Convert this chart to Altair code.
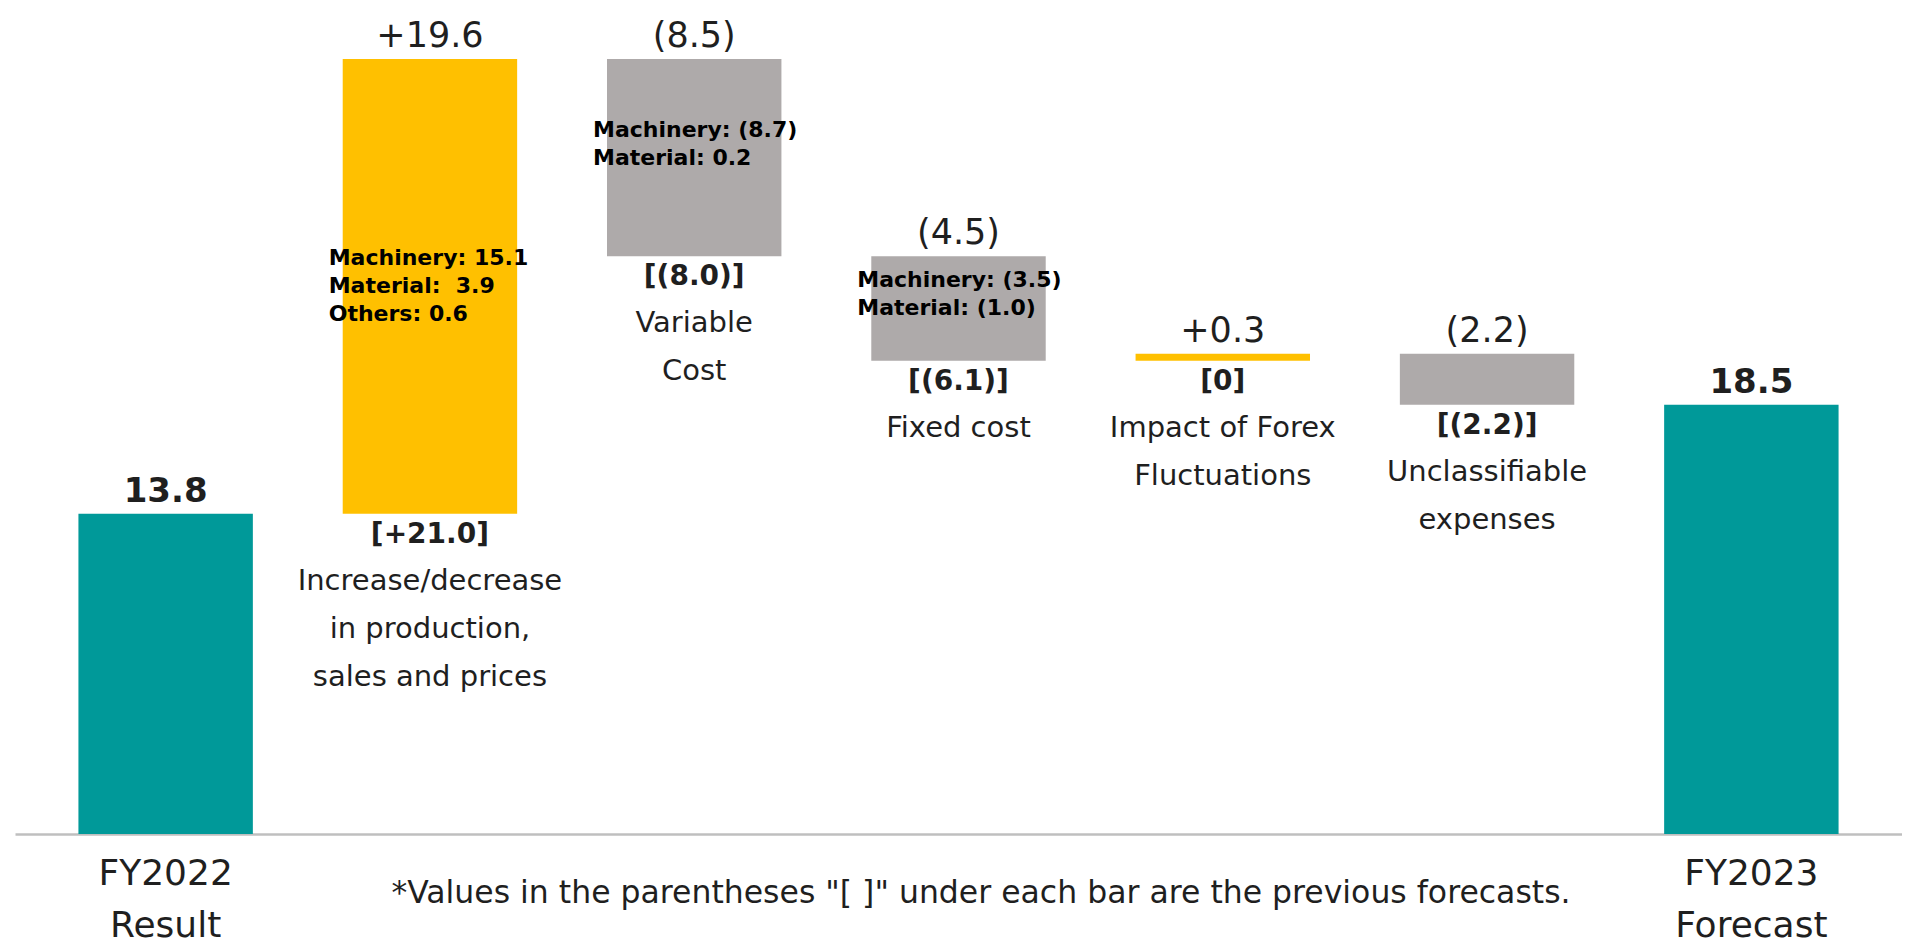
import altair as alt

# ---- data ----
steps = ["FY2022", "Production", "Variable", "Fixed", "Forex", "Unclassifiable", "FY2023"]
changes = [13.8, 19.6, -8.5, -4.5, 0.3, -2.2, 18.5]
kinds = ["total", "increase", "decrease", "decrease", "increase", "decrease", "total"]
value_labels = ["13.8", "+19.6", "(8.5)", "(4.5)", "+0.3", "(2.2)", "18.5"]
previous_forecasts = ["", "[+21.0]", "[(8.0)]", "[(6.1)]", "[0]", "[(2.2)]", ""]
category_labels = [
    "FY2022\nResult",
    "Increase/decrease\nin production,\nsales and prices",
    "Variable\nCost",
    "Fixed cost",
    "Impact of Forex\nFluctuations",
    "Unclassifiable\nexpenses",
    "FY2023\nForecast",
]
breakdowns = [
    "",
    "Machinery: 15.1\nMaterial:\u00a0 3.9\nOthers: 0.6",
    "Machinery: (8.7)\nMaterial: 0.2",
    "Machinery: (3.5)\nMaterial: (1.0)",
    "",
    "",
    "",
]
footnote = '*Values in the parentheses "[ ]" under each bar are the previous forecasts.'

# ---- waterfall table ----
rows = []
running = 0.0
for i, s in enumerate(steps):
    if kinds[i] == "total":
        start, end = 0.0, changes[i]
        running = changes[i]
    else:
        start = running
        end = round(running + changes[i], 4)
        running = end
    rows.append({
        "step": s,
        "kind": kinds[i],
        "start": start,
        "end": end,
        "top": max(start, end),
        "bottom": min(start, end),
        "mid": (start + end) / 2,
        "value_label": value_labels[i],
        "prev": previous_forecasts[i],
        "category": category_labels[i],
        "breakdown": breakdowns[i],
    })

data = alt.Data(values=rows)
FONT = "DejaVu Sans"
TXT = "#1f1f1f"

x_enc = alt.X(
    "step:N",
    sort=steps,
    scale=alt.Scale(paddingInner=0.34, paddingOuter=0.24),
    axis=alt.Axis(labels=False, ticks=False, title=None, domainColor="#bfbfbf", domainWidth=2.5, grid=False),
)
y_scale = alt.Scale(domain=[0, 35.6], nice=False)

base = alt.Chart(data)

bars = base.mark_bar().encode(
    x=x_enc,
    y=alt.Y("start:Q", scale=y_scale, axis=None),
    y2="end:Q",
    color=alt.Color(
        "kind:N",
        scale=alt.Scale(domain=["total", "increase", "decrease"], range=["#009999", "#FFC000", "#AEAAAA"]),
        legend=None,
    ),
)

top_regular = base.transform_filter("datum.kind != 'total'").mark_text(
    font=FONT, fontSize=35, color=TXT, baseline="alphabetic", dy=-12
).encode(x=alt.X("step:N", sort=steps), y=alt.Y("top:Q", scale=y_scale), text="value_label:N")

top_bold = base.transform_filter("datum.kind == 'total'").mark_text(
    font=FONT, fontSize=34, fontWeight="bold", color=TXT, baseline="alphabetic", dy=-12
).encode(x=alt.X("step:N", sort=steps), y=alt.Y("top:Q", scale=y_scale), text="value_label:N")

prev_labels = base.transform_filter("datum.prev != ''").mark_text(
    font=FONT, fontSize=28, fontWeight="bold", color=TXT, baseline="middle", dy=21
).encode(x=alt.X("step:N", sort=steps), y=alt.Y("bottom:Q", scale=y_scale), text="prev:N")

cat_labels = base.transform_filter("datum.kind != 'total'").mark_text(
    font=FONT, fontSize=29, color=TXT, baseline="alphabetic", dy=76, lineBreak="\n", lineHeight=48
).encode(x=alt.X("step:N", sort=steps), y=alt.Y("bottom:Q", scale=y_scale), text="category:N")

total_labels = base.transform_filter("datum.kind == 'total'").mark_text(
    font=FONT, fontSize=36, color=TXT, baseline="alphabetic", dy=51, lineBreak="\n", lineHeight=52
).encode(x=alt.X("step:N", sort=steps), y=alt.Y("start:Q", scale=y_scale), text="category:N")

breakdown_labels = base.transform_filter("datum.breakdown != ''").mark_text(
    font=FONT, fontSize=22, fontWeight="bold", color="#000000", align="left", baseline="middle",
    dx=-14, dy=-28, lineBreak="\n", lineHeight=28
).encode(
    x=alt.X("step:N", sort=steps, bandPosition=0),
    y=alt.Y("mid:Q", scale=y_scale),
    text="breakdown:N",
)

note = alt.Chart(alt.Data(values=[{"note": footnote}])).mark_text(
    font=FONT, fontSize=31.5, color=TXT, baseline="middle", align="center"
).encode(x=alt.value(966), y=alt.value(886), text="note:N")

chart = alt.layer(
    bars, top_regular, top_bold, prev_labels, cat_labels, total_labels, breakdown_labels, note
).properties(
    width=1887,
    height=826,
    padding={"left": 7, "top": 0, "right": 0, "bottom": 107},
    autosize=alt.AutoSizeParams(type="none"),
    background="#ffffff",
).configure_view(strokeWidth=0)

chart.save("out.html", embed_options={"renderer": "svg", "actions": False})
